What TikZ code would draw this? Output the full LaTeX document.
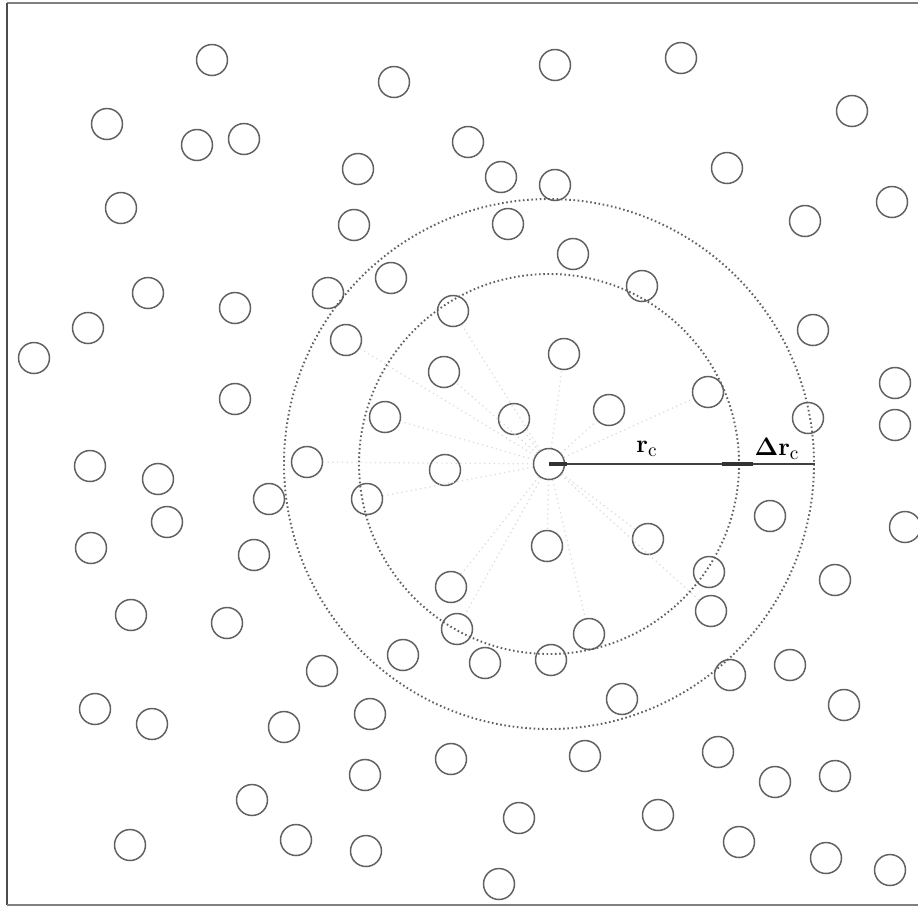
\documentclass[tikz,border=0pt]{standalone}
\usepackage{amsmath}
\begin{document}
\begin{tikzpicture}[x=0.02cm,y=-0.02cm,
  ball/.style={circle,draw=black!62,line width=0.85pt,minimum size=0.62cm,inner sep=0pt},
  ray/.style={draw=black!14,line width=0.7pt,dotted},
  ring/.style={draw=black!62,line width=1.1pt,dash pattern=on 0.9pt off 1.5pt},
  frameline/.style={draw=black!50,line width=1pt},
  lbl/.style={font=\fontsize{15}{17}\selectfont,inner sep=0pt}]
\useasboundingbox (0,0) rectangle (918,907);
\fill[white] (0,0) rectangle (918,907);
\begin{scope}
\clip (0,0) rectangle (918,907);
% frame
\draw[frameline] (7,3) -- (918,3);
\draw[frameline,draw=black!70] (7,3) -- (7,905);
\draw[frameline] (7,905) -- (918,905);
% central particle
\node[ball] (c) at (549,464) {};
% particles
\foreach \n/\x/\y in {
 a1/212/60, a2/394/82, a3/555/65, a4/681/58, a5/852/111,
 b1/107/124, b2/197/145, b3/244/139, b4/468/142, b5/358/169, b6/501/177, b7/555/185, b8/727/168,
 d1/121/208, d2/354/225, d3/508/224, d4/805/221, d5/892/202,
 e1/573/254, e2/391/278, e3/642/286, e4/148/293, e5/235/308, e6/328/293, e7/453/311, e8/88/328, e9/813/330,
 f1/34/358, f2/346/340, f3/564/354, f4/444/372, f5/235/399, f6/708/392, f7/385/417, f8/514/419, f9/609/410,
 g1/808/418, g2/895/383, g3/895/425,
 h1/90/466, h2/158/479, h3/307/462, h4/445/470, h5/269/499, h6/367/499, h7/167/522, h8/770/516, h9/905/527,
 i1/91/548, i2/254/555, i3/547/546, i4/648/539, i5/709/572, i6/835/580, i7/451/587,
 j1/131/615, j2/227/623, j3/457/629, j4/711/611, j5/589/634, j6/403/655, j7/485/663, j8/551/660,
 k1/322/671, k2/730/675, k3/790/665, k4/95/709, k5/152/724, k6/284/727, k7/370/714, k8/622/699, k9/844/705,
 l1/451/759, l2/585/756, l3/718/752, l4/365/775, l5/775/782, l6/835/776,
 m1/252/800, m2/519/818, m3/658/815, m4/130/845, m5/296/840, m6/366/851,
 m7/739/842, m8/826/858, m9/890/870, m10/499/884}
 { \node[ball] (\n) at (\x,\y) {}; }
% faint rays to neighbours
\foreach \t in {h3,f7,e7,f2,f3,f4,f8,f9,f6,i3,i4,i7,j3,j5,h6,j4}
 { \path[ray] (c) -- (\t); }
% rings
\draw[ring] (c.center) circle (190);
\draw[ring] (c.center) circle (265);
% radius line
\coordinate (re) at (722,464);
\coordinate (rs) at (753,464);
\coordinate (ee) at (815,464);
\draw[black!75,line width=0.7pt] (c.center) -- (ee);
\draw[black!80,line width=2pt] (c.center) -- ++(18,0);
\draw[black!80,line width=2pt] (re) -- (rs);
\node[lbl] (rc) at (647,449) {$\mathbf{r}_{\mathrm{c}}$};
\node[lbl] (drc) at (777,449) {$\mathbf{\Delta r}_{\mathrm{c}}$};
\end{scope}
\end{tikzpicture}
\end{document}
